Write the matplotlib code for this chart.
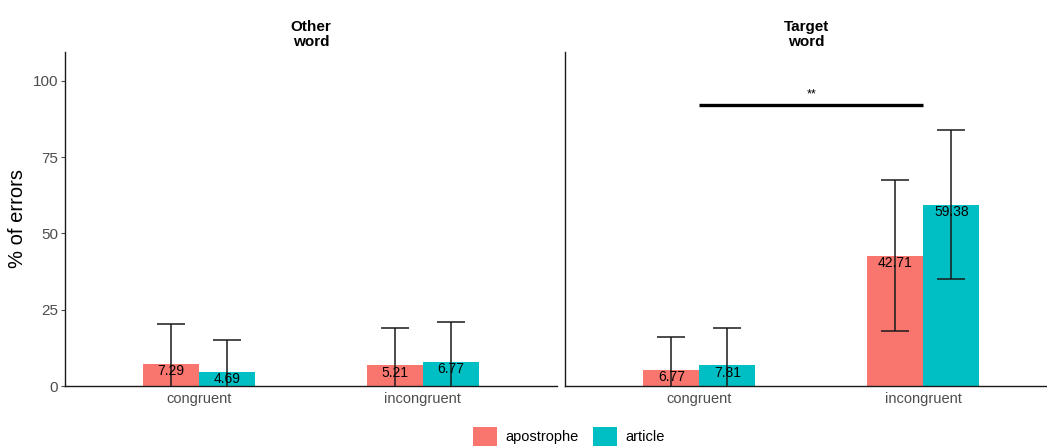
import matplotlib.pyplot as plt
import numpy as np
from matplotlib.patches import Patch

plt.rcParams['font.family'] = ['Liberation Sans', 'DejaVu Sans']

conditions = ['congruent', 'incongruent']
groups = ['apostrophe', 'article']
colors = ['#F8766D', '#00BFC4']
panels = ['Other\nword', 'Target\nword']

# bar heights [panel][condition][group]
heights = [[[7.29, 4.69], [6.77, 7.81]],
           [[5.21, 6.77], [42.71, 59.38]]]
# labels printed on the bars (as in the picture)
labels = [[['7.29', '4.69'], ['5.21', '6.77']],
          [['6.77', '7.81'], ['42.71', '59.38']]]
# error half-widths
errs = [[[12.9, 10.4], [12.4, 13.2]],
        [[11.0, 12.4], [24.8, 24.4]]]

W, H = 1047, 446
fig = plt.figure(figsize=(W / 100, H / 100), dpi=100)
ax_l = fig.add_axes([65 / W, 1 - 386 / H, 492 / W, 334 / H])
ax_r = fig.add_axes([565 / W, 1 - 386 / H, 482 / W, 334 / H])
axes = [ax_l, ax_r]

bw = 0.25
x = np.arange(1, len(conditions) + 1)
for p, ax in enumerate(axes):
    for g in range(2):
        xs = x + (g - 0.5) * bw
        hs = [heights[p][c][g] for c in range(2)]
        es = [errs[p][c][g] for c in range(2)]
        ax.bar(xs, hs, width=bw, color=colors[g], zorder=2)
        ax.errorbar(xs, hs, yerr=es, fmt='none', ecolor='#1a1a1a',
                    elinewidth=1.1, capsize=10, capthick=1.1, zorder=3)
        for c in range(2):
            ax.text(xs[c], hs[c] - 2.4, labels[p][c][g], ha='center',
                    va='center', fontsize=10, color='black', zorder=4)
    ax.set_ylim(0, 109.5)
    ax.set_xticks(x)
    ax.set_xticklabels(conditions, fontsize=10.5, color='#4d4d4d')
    ax.tick_params(axis='x', length=0, pad=4)
    ax.tick_params(axis='y', length=3, color='#4d4d4d', labelsize=11,
                   labelcolor='#4d4d4d', pad=2)
    for s in ['top', 'right']:
        ax.spines[s].set_visible(False)
    for s in ['left', 'bottom']:
        ax.spines[s].set_linewidth(1.0)
        ax.spines[s].set_color('#1a1a1a')
    ax.set_title(panels[p], fontsize=11, fontweight='bold', pad=4,
                 linespacing=1.15)

ax_l.set_xlim(0.4, 2.6)
ax_r.set_xlim(0.4, 0.4 + 482 / 224)
ax_l.set_yticks([0, 25, 50, 75, 100])
ax_r.set_yticks([])
ax_l.set_ylabel('% of errors', fontsize=14.5, labelpad=4)

# significance bar
ax_r.plot([1, 2], [92.1, 92.1], color='black', lw=2.4, solid_capstyle='butt')
ax_r.text(1.5, 93.5, '**', ha='center', va='bottom', fontsize=9)

handles = [Patch(facecolor=c, edgecolor='none') for c in colors]
fig.legend(handles, groups, loc='upper center', ncol=2,
           bbox_to_anchor=(569 / W, 1 - 417 / H), frameon=False,
           fontsize=10.5, handlelength=1.6, handleheight=1.6,
           columnspacing=1.0, handletextpad=0.6, borderpad=0.2)

fig.savefig('out.png', dpi=100)
